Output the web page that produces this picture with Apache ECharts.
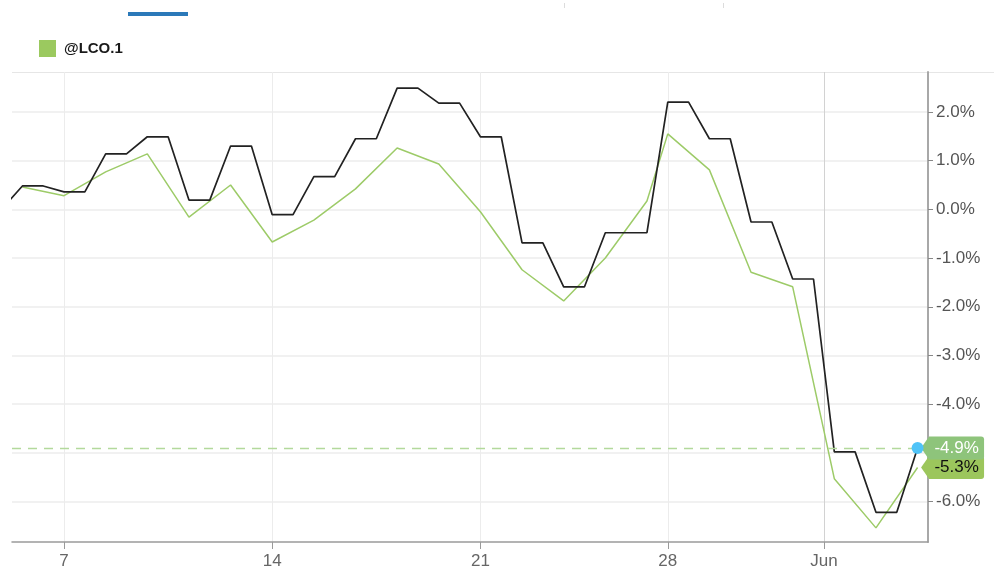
<!DOCTYPE html>
<html>
<head>
<meta charset="utf-8">
<script src="https://cdn.jsdelivr.net/npm/echarts@6/dist/echarts.min.js"></script>
<style>
html,body{margin:0;padding:0;background:#fff;}
#chart{width:994px;height:575px;}
</style>
</head>
<body>
<div id="chart"></div>
<script>
// ---- data ----
const seriesName = '@LCO.1';
// black line: one value per slot, starting at slot -1
const blackStartSlot = -1;
const blackValues = [0.00, 0.48, 0.48, 0.36, 0.36, 1.14, 1.14, 1.49, 1.49, 0.19, 0.19, 1.30, 1.30, -0.11, -0.11, 0.67, 0.67, 1.45, 1.45, 2.49, 2.49, 2.18, 2.18, 1.49, 1.49, -0.69, -0.69, -1.59, -1.59, -0.48, -0.48, -0.48, 2.20, 2.20, 1.45, 1.45, -0.26, -0.26, -1.43, -1.43, -4.98, -4.98, -6.22, -6.22, -4.90];
// green line (@LCO.1)
const greenSlots = [0, 2, 4, 6, 8, 10, 12, 14, 16, 18, 20, 22, 24, 26, 28, 30, 31, 33, 35, 37, 39, 41, 43];
const greenValues = [0.46, 0.28, 0.77, 1.14, -0.16, 0.50, -0.67, -0.22, 0.42, 1.26, 0.93, -0.05, -1.24, -1.88, -1.00, 0.17, 1.55, 0.81, -1.29, -1.59, -5.53, -6.54, -5.30];
// x tick labels
const tickSlots = [2, 12, 22, 31, 38.5];
const tickLabels = ['7', '14', '21', '28', 'Jun'];
// y ticks
const yTicks = [-6, -5, -4, -3, -2, -1, 0, 1, 2];
const hiddenYTicks = [-5];

// ---- build ----
const blackData = blackValues.map((v, i) => [blackStartSlot + i, v]);
const greenData = greenSlots.map((s, i) => [s, greenValues[i]]);
const blackLast = blackData[blackData.length - 1];
const greenLast = greenData[greenData.length - 1];

const FONT = '"Liberation Sans", Arial, Helvetica, sans-serif';
const tagPath = 'path://M0,11.5 L8,0 L60,0 Q63,0 63,3 L63,20 Q63,23 60,23 L8,23 Z';

function tag(coord, bg, fg) {
  return {
    coord: coord,
    symbol: tagPath,
    symbolSize: [63, 23],
    symbolOffset: [35, 0],
    itemStyle: { color: bg },
    label: {
      show: true,
      position: 'inside',
      offset: [4, 0],
      formatter: coord[1].toFixed(1) + '%',
      color: fg,
      fontSize: 17,
      fontFamily: FONT
    }
  };
}

const chart = echarts.init(document.getElementById('chart'), null, { renderer: 'canvas' });
chart.setOption({
  animation: false,
  backgroundColor: '#fff',
  grid: { left: 12, right: 66, top: 72, bottom: 33, containLabel: false },
  legend: {
    data: [seriesName],
    left: 34,
    top: 35,
    icon: 'rect',
    itemWidth: 17,
    itemHeight: 17,
    itemGap: 10,
    selectedMode: false,
    textStyle: { fontWeight: 'bold', fontSize: 15, color: '#1a1a1a', fontFamily: FONT, padding: [0, 0, 0, 3] }
  },
  xAxis: {
    type: 'value',
    min: -0.5,
    max: 43.5,
    axisLine: { show: true, onZero: false, lineStyle: { color: '#9a9a9a', width: 1.5 } },
    axisTick: { show: true, customValues: tickSlots, length: 7, lineStyle: { color: '#9a9a9a' } },
    axisLabel: {
      customValues: tickSlots,
      formatter: v => { const i = tickSlots.indexOf(v); return i >= 0 ? tickLabels[i] : ''; },
      color: '#666',
      fontSize: 17,
      fontFamily: FONT,
      margin: 11
    },
    splitLine: { show: true, lineStyle: { color: ['#ececec', '#ececec', '#ececec', '#ececec', '#d2d2d2'], width: 1 } }
  },
  yAxis: {
    type: 'value',
    position: 'right',
    min: -6.83,
    max: 2.82,
    axisLine: { show: true, onZero: false, lineStyle: { color: '#a8a8a8', width: 2 } },
    axisTick: { show: true, customValues: yTicks, length: 5, lineStyle: { color: '#888' } },
    axisLabel: {
      customValues: yTicks,
      formatter: v => hiddenYTicks.indexOf(v) >= 0 ? '' : v.toFixed(1) + '%',
      color: '#555',
      fontSize: 17,
      fontFamily: FONT,
      margin: 8
    },
    splitLine: { show: true, lineStyle: { color: '#ececec', width: 1.5 } }
  },
  graphic: [
    { type: 'line', shape: { x1: 12, y1: 72.5, x2: 994, y2: 72.5 }, style: { stroke: '#e6e6e6', lineWidth: 1 }, z: 0 },
    { type: 'rect', shape: { x: 128, y: 12, width: 60, height: 4 }, style: { fill: '#2b79b9' } },
    { type: 'line', shape: { x1: 564.5, y1: 3, x2: 564.5, y2: 8 }, style: { stroke: '#dcdcdc', lineWidth: 1 } },
    { type: 'line', shape: { x1: 723.5, y1: 3, x2: 723.5, y2: 8 }, style: { stroke: '#dcdcdc', lineWidth: 1 } }
  ],
  series: [
    {
      name: seriesName,
      type: 'line',
      data: greenData,
      showSymbol: false,
      color: '#9bc95f',
      lineStyle: { color: '#9dcb68', width: 1.5 },
      z: 2,
      markPoint: {
        silent: true,
        data: [tag(greenLast, '#9cc65c', '#111')]
      }
    },
    {
      name: 'main',
      type: 'line',
      data: blackData,
      showSymbol: false,
      lineStyle: { color: '#222', width: 1.7 },
      z: 3,
      markLine: {
        silent: true,
        symbol: 'none',
        label: { show: false },
        lineStyle: { color: '#b3d99c', type: [9, 7], width: 1.3 },
        data: [{ yAxis: blackLast[1] }]
      },
      markPoint: {
        silent: true,
        data: [
          tag(blackLast, '#8ec47b', '#fff'),
          { coord: blackLast, symbol: 'circle', symbolSize: 12, itemStyle: { color: '#4fc3f7' }, label: { show: false } }
        ]
      }
    }
  ]
});
</script>
</body>
</html>
